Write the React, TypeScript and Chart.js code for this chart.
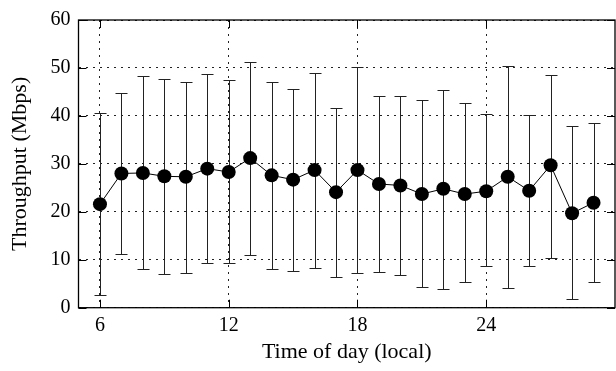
import React, { useEffect, useRef } from "react";
import { Chart, registerables } from "chart.js";

Chart.register(...registerables);

const hours = [6, 7, 8, 9, 10, 11, 12, 13, 14, 15, 16, 17, 18, 19, 20, 21, 22, 23, 24, 25, 26, 27, 28, 29];
const meanMbps = [21.6, 28.0, 28.1, 27.4, 27.3, 29.0, 28.3, 31.2, 27.6, 26.7, 28.7, 24.1, 28.7, 25.8, 25.5, 23.7, 24.8, 23.7, 24.3, 27.3, 24.4, 29.7, 19.7, 21.9];
const highMbps = [40.7, 44.8, 48.3, 47.7, 47.1, 48.8, 47.4, 51.3, 47.1, 45.7, 49.0, 41.6, 50.1, 44.2, 44.2, 43.3, 45.5, 42.6, 40.3, 50.5, 40.1, 48.6, 37.8, 38.6];
const lowMbps = [2.6, 11.3, 8.0, 7.0, 7.2, 9.3, 9.4, 11.0, 8.0, 7.6, 8.2, 6.3, 7.2, 7.5, 6.9, 4.3, 4.0, 5.4, 8.6, 4.1, 8.6, 10.4, 1.8, 5.4];
const xTicks = [6, 12, 18, 24];
const yTicks = [0, 10, 20, 30, 40, 50, 60];

const FONT = "'Liberation Serif', 'Times New Roman', serif";

const errorBarPlugin = {
  id: "errorBars",
  beforeDatasetsDraw(chart: any) {
    const { ctx, scales } = chart;
    const xs = scales.x;
    const ys = scales.y;
    ctx.save();
    ctx.strokeStyle = "#222";
    ctx.lineWidth = 1;
    const cap = 6;
    hours.forEach((h, i) => {
      const px = Math.round(xs.getPixelForValue(h)) + 0.5;
      const top = Math.round(ys.getPixelForValue(highMbps[i])) + 0.5;
      const bot = Math.round(ys.getPixelForValue(lowMbps[i])) + 0.5;
      ctx.beginPath();
      ctx.moveTo(px, top);
      ctx.lineTo(px, bot);
      ctx.moveTo(px - cap, top);
      ctx.lineTo(px + cap, top);
      ctx.moveTo(px - cap, bot);
      ctx.lineTo(px + cap, bot);
      ctx.stroke();
    });
    ctx.restore();
  },
  afterDraw(chart: any) {
    const { ctx, scales, chartArea } = chart;
    const { left, right, top, bottom } = chartArea;
    const xs = scales.x;
    const ys = scales.y;
    const tl = 8;
    ctx.save();
    ctx.strokeStyle = "#000";
    ctx.lineWidth = 1.3;
    ctx.strokeRect(left, top, right - left, bottom - top);
    ctx.lineWidth = 1;
    ctx.beginPath();
    yTicks.forEach((v) => {
      const py = Math.round(ys.getPixelForValue(v)) + 0.5;
      ctx.moveTo(left, py);
      ctx.lineTo(left + tl, py);
      ctx.moveTo(right, py);
      ctx.lineTo(right - tl, py);
    });
    xTicks.forEach((v) => {
      const px = Math.round(xs.getPixelForValue(v)) + 0.5;
      ctx.moveTo(px, bottom);
      ctx.lineTo(px, bottom - tl);
      ctx.moveTo(px, top);
      ctx.lineTo(px, top + tl);
    });
    ctx.stroke();
    ctx.restore();
  },
};

export default function App() {
  const ref = useRef<HTMLCanvasElement | null>(null);
  useEffect(() => {
    document.body.style.margin = "0";
    document.body.style.overflow = "hidden";
    document.documentElement.style.overflow = "hidden";
    const canvas = ref.current;
    if (!canvas) return;
    const chart = new Chart(canvas, {
      type: "line",
      data: {
        datasets: [
          {
            data: hours.map((h, i) => ({ x: h, y: meanMbps[i] })),
            borderColor: "#000",
            borderWidth: 1,
            backgroundColor: "#000",
            pointBackgroundColor: "#000",
            pointBorderColor: "#000",
            pointRadius: 7,
            pointBorderWidth: 0,
            tension: 0,
          },
        ],
      },
      options: {
        responsive: false,
        animation: false,
        events: [],
        layout: { padding: { top: 16, right: 3, left: 0, bottom: 0 } },
        plugins: {
          legend: { display: false },
          tooltip: { enabled: false },
        },
        scales: {
          x: {
            type: "linear",
            min: 5,
            max: 30,
            afterBuildTicks: (s: any) => {
              s.ticks = xTicks.map((v) => ({ value: v }));
            },
            afterFit: (s: any) => {
              s.height = 63.3;
            },
            border: { display: false, dash: [2, 5] },
            grid: {
              color: "#222",
              lineWidth: 1,
              drawTicks: false,
            },
            ticks: {
              color: "#000",
              font: { family: FONT, size: 20 },
              padding: 6,
              maxRotation: 0,
              autoSkip: false,
            },
            title: {
              display: true,
              text: "Time of day (local)",
              color: "#000",
              font: { family: FONT, size: 22 },
              padding: { top: 0, bottom: 6 },
            },
          },
          y: {
            min: 0,
            max: 60,
            afterBuildTicks: (s: any) => {
              s.ticks = yTicks.map((v) => ({ value: v }));
            },
            afterFit: (s: any) => {
              s.width = 78.5;
            },
            border: { display: false, dash: [2, 5] },
            grid: {
              color: "#222",
              lineWidth: 1,
              drawTicks: false,
            },
            ticks: {
              color: "#000",
              font: { family: FONT, size: 20 },
              padding: 8,
            },
            title: {
              display: true,
              text: "Throughput (Mbps)",
              color: "#000",
              font: { family: FONT, size: 22 },
              padding: { top: 7, bottom: 0 },
            },
          },
        },
      },
      plugins: [errorBarPlugin],
    } as any);
    return () => chart.destroy();
  }, []);
  return (
    <div style={{ position: "absolute", left: 0, top: 0, width: 616, height: 371, overflow: "hidden", background: "#fff" }}>
      <canvas ref={ref} width={622} height={371} style={{ width: 622, height: 371, display: "block" }} />
    </div>
  );
}
